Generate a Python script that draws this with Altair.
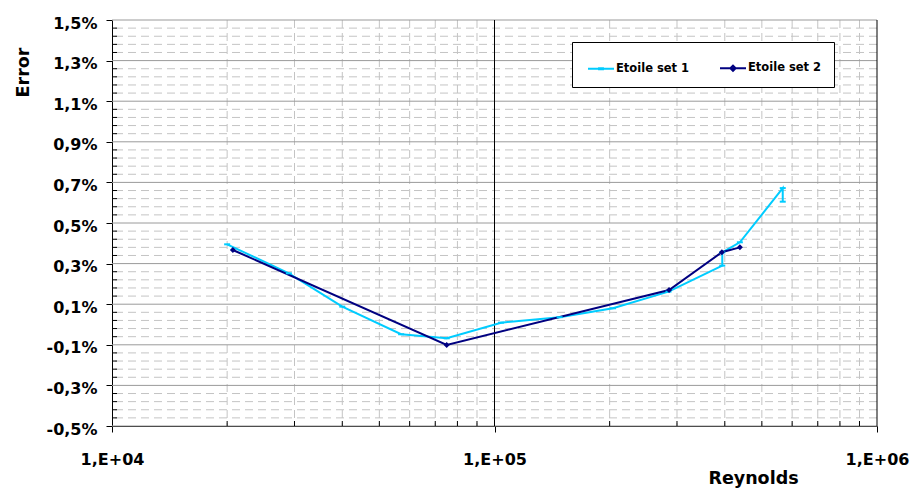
import altair as alt
import numpy as np
import pandas as pd

# Error (%) against Reynolds number for the two Etoile series
re_set1 = [2.0e4, 2.9e4, 4.0e4, 5.7e4, 7.5e4, 1.04e5, 1.48e5, 2.04e5, 2.85e5,
           3.94e5, 3.94e5, 4.38e5, 5.67e5, 5.67e5]
err_set1 = [0.395, 0.252, 0.088, -0.048, -0.068, 0.009, 0.036, 0.080, 0.162,
            0.290, 0.355, 0.405, 0.672, 0.605]

re_set2 = [2.07e4, 7.5e4, 2.86e5, 3.93e5, 4.38e5]
err_set2 = [0.367, -0.101, 0.170, 0.356, 0.380]

series_names = ["Etoile set 1", "Etoile set 2"]
series_colors = ["#00CCFF", "#000080"]
# legend keys: a line with a short dash, a line with a diamond
series_keys = ["M-1,0H1M-0.15,-0.04H0.15V0.04H-0.15Z",
               "M-1,0H1M-0.2,0L0,-0.2L0.2,0L0,0.2Z"]

x_ticks = [1e4, 1e5, 1e6]
y_ticks = [-0.5, -0.3, -0.1, 0.1, 0.3, 0.5, 0.7, 0.9, 1.1, 1.3, 1.5]

W, H = 765, 406

data = pd.concat([
    pd.DataFrame({"series": series_names[0], "re": re_set1, "err": err_set1,
                  "idx": range(len(re_set1))}),
    pd.DataFrame({"series": series_names[1], "re": re_set2, "err": err_set2,
                  "idx": range(len(re_set2))}),
], ignore_index=True)

# grid positions
y_minor = [round(-0.5 + 0.04 * j, 2) for j in range(51) if j % 5 != 0]
x_minor = [m * 10 ** k for k in (4, 5) for m in range(2, 10)]
x_major_grid = [1e5, 1e6]

xs = alt.Scale(type="log", domain=[1e4, 1e6], nice=False)
ys = alt.Scale(domain=[-0.5, 1.5], nice=False, zero=False)
color_scale = alt.Scale(domain=series_names, range=series_colors)
shape_scale = alt.Scale(domain=series_names, range=series_keys)

FONT = "DejaVu Sans"

# helper layers share the scales and leave the axes to the data layer
h_minor = alt.Chart(pd.DataFrame({"v": y_minor})).mark_rule(
    color="#c4c4c4", strokeWidth=1, strokeDash=[8, 5]
).encode(y=alt.Y("v:Q", scale=ys))

v_minor = alt.Chart(pd.DataFrame({"v": x_minor})).mark_rule(
    color="#c4c4c4", strokeWidth=1, strokeDash=[8, 5]
).encode(x=alt.X("v:Q", scale=xs))

h_major = alt.Chart(pd.DataFrame({"v": y_ticks})).mark_rule(
    color="#9a9a9a", strokeWidth=1
).encode(y=alt.Y("v:Q", scale=ys))

v_major = alt.Chart(pd.DataFrame({"v": x_major_grid})).mark_rule(
    color="black", strokeWidth=1
).encode(x=alt.X("v:Q", scale=xs))

# inward minor ticks on both axes
y_minor_ticks = alt.Chart(pd.DataFrame({"v": y_minor})).mark_rule(
    color="black", strokeWidth=1
).encode(y=alt.Y("v:Q", scale=ys), x=alt.value(0), x2=alt.value(5))

x_minor_ticks = alt.Chart(pd.DataFrame({"v": x_minor})).mark_rule(
    color="black", strokeWidth=1
).encode(x=alt.X("v:Q", scale=xs), y=alt.value(H), y2=alt.value(H - 5))

legend = alt.Legend(
    title=None,
    orient="none",
    legendX=460,
    legendY=22,
    direction="horizontal",
    strokeColor="black",
    fillColor="white",
    cornerRadius=0,
    padding=12,
    symbolOffset=3,
    labelFont=FONT,
    labelFontWeight="bold",
    labelFontSize=11.5,
    labelColor="black",
    labelOffset=1,
    columnPadding=26,
    symbolSize=676,
    symbolStrokeWidth=2,
    symbolOpacity=1,
)

x_axis = alt.Axis(
    values=x_ticks,
    labelExpr="'1,E+0' + format(round(log(datum.value) / LN10), 'd')",
    title="Reynolds",
    titleFont=FONT, titleFontWeight="bold", titleFontSize=17.5, titleColor="black",
    titleX=641, titleY=57, titleAlign="center", titleBaseline="alphabetic",
    labelFont=FONT, labelFontWeight="bold", labelFontSize=16, labelColor="black",
    labelPadding=19, labelFlush=False, labelOverlap=False,
    tickSize=6, tickColor="black", domainColor="black", grid=False,
)

y_axis = alt.Axis(
    values=y_ticks,
    labelExpr="(datum.value < 0 ? '-' : '') + replace(format(abs(datum.value), '.1f'), '.', ',') + '%'",
    title="Error",
    titleFont=FONT, titleFontWeight="bold", titleFontSize=17.5, titleColor="black",
    titleAngle=270, titleX=-89, titleY=52, titleAlign="center", titleBaseline="middle",
    labelFont=FONT, labelFontWeight="bold", labelFontSize=16, labelColor="black",
    labelPadding=9, labelOffset=3, labelFlush=False, labelOverlap=False,
    tickSize=6, tickColor="black", domainColor="black", grid=False,
)

lines = alt.Chart(data).mark_line(strokeWidth=2).encode(
    x=alt.X("re:Q", scale=xs, axis=x_axis),
    y=alt.Y("err:Q", scale=ys, axis=y_axis),
    color=alt.Color("series:N", scale=color_scale, legend=legend),
    order="idx:Q",
)

pts1 = alt.Chart(data[data["series"] == series_names[0]]).mark_point(
    shape="stroke", size=36, strokeWidth=2, color=series_colors[0], opacity=1
).encode(x=alt.X("re:Q", scale=xs), y=alt.Y("err:Q", scale=ys))

pts2 = alt.Chart(data[data["series"] == series_names[1]]).mark_point(
    shape="diamond", size=36, filled=True, color=series_colors[1], opacity=1
).encode(x=alt.X("re:Q", scale=xs), y=alt.Y("err:Q", scale=ys))

# legend keys: no rows pass the filter, the entries come from the scale domains
key_layer = alt.Chart(data).transform_filter("false").mark_point(
    filled=False, opacity=1, strokeWidth=2
).encode(
    x=alt.X("re:Q", scale=xs),
    y=alt.Y("err:Q", scale=ys),
    color=alt.Color("series:N", scale=color_scale, legend=legend),
    shape=alt.Shape("series:N", scale=shape_scale, legend=legend),
)

chart = alt.layer(
    h_minor, v_minor, h_major, v_major, y_minor_ticks, x_minor_ticks,
    lines, pts1, pts2, key_layer
).properties(
    width=W,
    height=H,
    autosize=alt.AutoSizeParams(type="none"),
    padding={"left": 112, "top": 20, "right": 37, "bottom": 65},
    background="white",
).configure_view(stroke=None)

chart.save("out.html", embed_options={"renderer": "svg", "actions": False})
